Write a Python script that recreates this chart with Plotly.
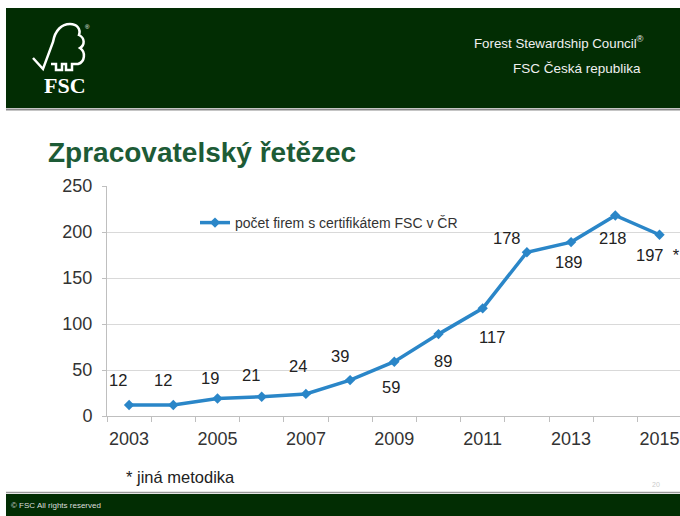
import plotly.graph_objects as go

# ---- data ----
years = [2003, 2004, 2005, 2006, 2007, 2008, 2009, 2010, 2011, 2012, 2013, 2014, 2015]
firms = [12, 12, 19, 21, 24, 39, 59, 89, 117, 178, 189, 218, 197]
label_suffix = ["", "", "", "", "", "", "", "", "", "", "", "", "\u00a0\u00a0*"]
xtick_years = [2003, 2005, 2007, 2009, 2011, 2013, 2015]
ytick_vals = [0, 50, 100, 150, 200, 250]
series_name = "počet firem s certifikátem FSC v ČR"
title_text = "Zpracovatelský řetězec"
footnote = "* jiná metodika"

# label offsets (px): (xshift, yshift)
label_offsets = [(-11, 25), (-10, 25), (-8, 21), (-11, 22), (-8, 28), (-10, 24),
                 (-3, -25), (4, -27), (9, -29), (-20, 14), (-2, -20), (-2, -23), (-2, -20)]

W, H = 680, 516
L, R, T, B = 107, 0, 186, 100
PW, PH = W - L - R, H - T - B


def px(x):
    return (x - L) / PW


def py(y):
    return (H - B - y) / PH


GREEN = "#022d03"
BLUE = "#2a86c8"
FONT = "Liberation Sans, Arial, sans-serif"

fig = go.Figure()
fig.add_trace(go.Scatter(
    x=years, y=firms, mode="lines+markers", name=series_name,
    line=dict(color=BLUE, width=3.5),
    marker=dict(symbol="diamond", size=8, color=BLUE),
    hoverinfo="x+y",
))

annotations = []
for yr, v, suf, (dx, dy) in zip(years, firms, label_suffix, label_offsets):
    annotations.append(dict(
        x=yr, y=v, xref="x", yref="y", text=f"{v}{suf}", showarrow=False,
        xshift=dx, yshift=dy, font=dict(family=FONT, size=16.5, color="#222222"),
        xanchor="center", yanchor="middle",
    ))

# slide texts
annotations += [
    dict(x=px(46), y=py(152), xref="paper", yref="paper", text=f"<b>{title_text}</b>",
         showarrow=False, xanchor="left", yanchor="middle",
         font=dict(family=FONT, size=28, color="#1d5b36")),
    dict(x=px(646), y=py(42), xref="paper", yref="paper", text="Forest Stewardship Council<sup>®</sup>",
         showarrow=False, xanchor="right", yanchor="middle",
         font=dict(family=FONT, size=13.3, color="#f0f0f0")),
    dict(x=px(643), y=py(68), xref="paper", yref="paper", text="FSC Česká republika",
         showarrow=False, xanchor="right", yanchor="middle",
         font=dict(family=FONT, size=13.5, color="#f0f0f0")),
    dict(x=px(65), y=py(85), xref="paper", yref="paper", text="<b>FSC</b>",
         showarrow=False, xanchor="center", yanchor="middle",
         font=dict(family="Liberation Serif, Times New Roman, serif", size=22, color="white")),
    dict(x=px(87), y=py(27), xref="paper", yref="paper", text="®",
         showarrow=False, xanchor="center", yanchor="middle",
         font=dict(family=FONT, size=6, color="white")),
    dict(x=px(124), y=py(477), xref="paper", yref="paper", text=footnote,
         showarrow=False, xanchor="left", yanchor="middle",
         font=dict(family=FONT, size=16.5, color="#222222")),
    dict(x=px(656), y=py(484), xref="paper", yref="paper", text="20",
         showarrow=False, xanchor="center", yanchor="middle",
         font=dict(family=FONT, size=7, color="#cccccc")),
    dict(x=px(9), y=py(505), xref="paper", yref="paper", text="© FSC All rights reserved",
         showarrow=False, xanchor="left", yanchor="middle",
         font=dict(family=FONT, size=8, color="#dddddd")),
]

# logo path in pixel coords
logo_pts = "M 33,58 L 43,69 L 53,42 C 55,30 62,24 70,24 C 77,24 81,29 79,35 C 85,38 85,45 80,48 " \
           "C 86,52 85,62 78,64 L 72,64 L 72,70 L 66,70 L 66,64 L 62,64 L 62,70 L 56,70 L 56,64 L 51,64"


def conv_path(p):
    out = []
    for tok in p.split():
        if "," in tok:
            a, b = tok.split(",")
            out.append(f"{px(float(a)):.5f},{py(float(b)):.5f}")
        else:
            out.append(tok)
    return " ".join(out)


shapes = [
    dict(type="rect", xref="paper", yref="paper", x0=px(6), x1=px(680), y0=py(8), y1=py(108),
         fillcolor=GREEN, line=dict(width=0), layer="below"),
    dict(type="line", xref="paper", yref="paper", x0=px(6), x1=px(680), y0=py(109.5), y1=py(109.5),
         line=dict(color="#8c8c8c", width=2), layer="below"),
    dict(type="line", xref="paper", yref="paper", x0=px(6), x1=px(680), y0=py(492.5), y1=py(492.5),
         line=dict(color="#9a9a9a", width=1.5), layer="below"),
    dict(type="rect", xref="paper", yref="paper", x0=px(6), x1=px(680), y0=py(494), y1=py(516),
         fillcolor=GREEN, line=dict(width=0), layer="below"),
    dict(type="path", xref="paper", yref="paper", path=conv_path(logo_pts),
         line=dict(color="white", width=2.5), fillcolor="rgba(0,0,0,0)"),
]

fig.update_layout(
    width=W, height=H,
    margin=dict(l=L, r=R, t=T, b=B, autoexpand=False),
    paper_bgcolor="white", plot_bgcolor="white",
    font=dict(family=FONT, color="#333333"),
    showlegend=True,
    legend=dict(x=(195 - L) / PW, y=(H - B - 223) / PH,
                xanchor="left", yanchor="middle", bgcolor="rgba(0,0,0,0)",
                font=dict(family=FONT, size=14, color="#333333"), itemwidth=30),
    annotations=annotations,
    shapes=shapes,
    xaxis=dict(
        range=[2002.5, 2002.5 + PW / 44.2], tickmode="array", tickvals=xtick_years,
        ticktext=[str(y) for y in xtick_years], ticks="", showgrid=False, zeroline=False,
        showline=True, linecolor="#bfbfbf", linewidth=1,
        tickfont=dict(family=FONT, size=18, color="#333333"), ticklabelstandoff=6,
        minor=dict(tickmode="linear", tick0=2002.5, dtick=1, ticks="outside", ticklen=5,
                   tickcolor="#bfbfbf", showgrid=False),
    ),
    yaxis=dict(
        range=[0, 250], tickmode="array", tickvals=ytick_vals, showgrid=True, gridcolor="#d9d9d9",
        gridwidth=1, zeroline=False, showline=True, linecolor="#bfbfbf", linewidth=1,
        ticks="outside", ticklen=4, tickcolor="#bfbfbf",
        tickfont=dict(family=FONT, size=18, color="#333333"), ticklabelstandoff=6,
    ),
)

fig.write_html("out.html", config={"displayModeBar": False},
               post_script="document.body.style.margin='0';document.body.style.overflow='hidden';")
